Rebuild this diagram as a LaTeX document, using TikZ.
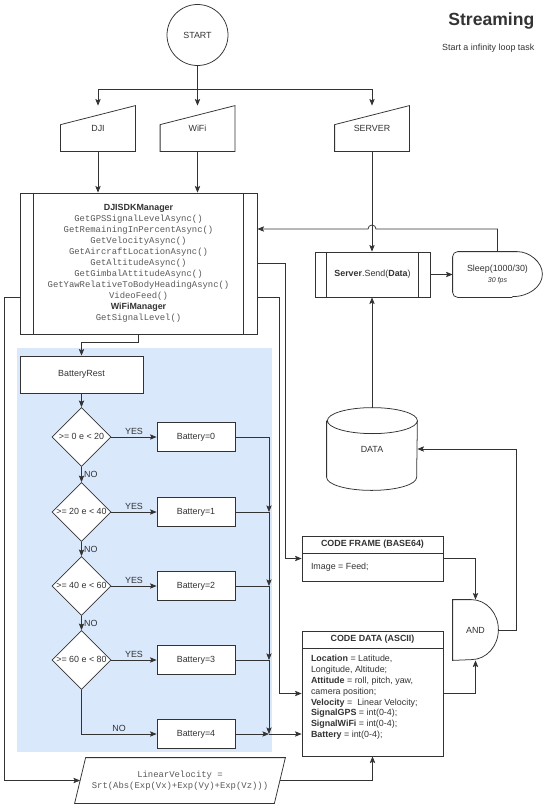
\documentclass[tikz,border=0pt]{standalone}
\usepackage{fontspec}
\setmainfont{Liberation Sans}
\setmonofont{Liberation Mono}
\usetikzlibrary{arrows.meta,shapes.geometric}

\definecolor{lineclr}{HTML}{333333}
\definecolor{bluebg}{HTML}{DAE8FC}
\definecolor{codeclr}{HTML}{5A5A5A}

\newcommand{\mono}[1]{{\ttfamily\color{codeclr}#1}}

\begin{document}
\begin{tikzpicture}[
        x=0.03cm, y=-0.03cm,
        color=lineclr,
        line width=0.65pt,
        >={Stealth[length=2mm,width=1.6mm,inset=0.4mm]},
        every node/.style={
            font=\fontsize{7.6}{9.3}\selectfont,
            inner sep=2pt
        },
        box/.style={draw, fill=white, rectangle},
        startnode/.style={draw, circle, minimum size=1.83cm},
        manual/.style={minimum width=2.22cm, minimum height=1.35cm},
        cond/.style={
            draw, fill=white, diamond, aspect=1,
            minimum width=1.77cm, minimum height=1.77cm,
            inner sep=0pt, text height=1.1ex, text depth=0.25ex
        },
        battery/.style={box, minimum width=2.34cm, minimum height=0.87cm},
        boxtitle/.style={box, minimum width=4.23cm, minimum height=0.51cm,
            anchor=north, font=\fontsize{7.6}{9.3}\selectfont\bfseries}
    ]

    \useasboundingbox (0,0) rectangle (550,808);
    \fill[white] (0,0) rectangle (550,808);

    % Fondo
    \fill[bluebg] (17,348) rectangle (272,752);

    % Título
    \node[anchor=east, font=\fontsize{15}{18}\selectfont\bfseries] (title) at (537,21) {Streaming};
    \node[anchor=east] (subtitle) at (537,48) {Start a infinity loop task};

    % Nodos
    \node[startnode] (start) at (197.5,35) {START};
    \node[manual] (dji) at (98,128.5) {DJI};
    \node[manual] (wifi) at (197.5,128.5) {WiFi};
    \node[manual] (server) at (372,128.5) {SERVER};
    \coordinate (split) at (197.5,89);
    \coordinate (loop) at (0,229);

    \node[box, minimum width=7.11cm, minimum height=4.23cm, align=center, font=\fontsize{7.6}{9.4}\selectfont] (manager) at (138.5,263.5) {\textbf{DJISDKManager}\\
        \mono{GetGPSSignalLevelAsync()}\\
        \mono{GetRemainingInPercentAsync()}\\
        \mono{GetVelocityAsync()}\\
        \mono{GetAircraftLocationAsync()}\\
        \mono{GetAltitudeAsync()}\\
        \mono{GetGimbalAttitudeAsync()}\\
        \mono{GetYawRelativeToBodyHeadingAsync()}\\
        \mono{VideoFeed()}\\
        \textbf{WiFiManager}\\
        \mono{GetSignalLevel()}};

    \node[box, minimum width=3.45cm, minimum height=1.35cm] (send) at (372.5,274.5) {\textbf{Server}.Send(\textbf{Data})};
    \node[minimum width=2.67cm, minimum height=1.35cm, align=center] (sleep) at (497.5,274.5) {Sleep(1000/30)\\{\fontsize{6}{7}\selectfont\itshape 30 fps}};
    \node[minimum width=2.7cm, minimum height=2.46cm] (data) at (372,449) {DATA};

    \node[box, minimum width=4.23cm, minimum height=1.35cm] (frame) at (372.5,558.5) {};
    \node[boxtitle] (frametitle) at (frame.north) {CODE FRAME (BASE64)};
    \node[anchor=west, inner xsep=0.27cm] (frametext) at (frame.west |- 0,567) {Image = Feed;};

    \node[box, minimum width=4.23cm, minimum height=3.75cm] (codedata) at (372.5,693.5) {};
    \node[boxtitle] (codetitle) at (codedata.north) {CODE DATA (ASCII)};
    \node[anchor=north west, inner xsep=0.27cm, inner ysep=0.2cm, align=left, font=\fontsize{7.6}{9.2}\selectfont] (codetext) at (codetitle.south west) {\textbf{Location} = Latitude,\\
        Longitude, Altitude;\\
        \textbf{Attitude} = roll, pitch, yaw,\\
        camera position;\\
        \textbf{Velocity} = \ Linear Velocity;\\
        \textbf{SignalGPS} = int(0-4);\\
        \textbf{SignalWiFi} = int(0-4);\\
        \textbf{Battery} = int(0-4);};

    \node[minimum width=1.35cm, minimum height=1.8cm] (and) at (475.5,630) {AND};

    \node[box, minimum width=3.69cm, minimum height=1.11cm] (batrest) at (81.5,374.5) {BatteryRest};
    \node[cond] (d0) at (81.5,437) {>= 0 e < 20};
    \node[cond] (d1) at (81.5,512) {>= 20 e < 40};
    \node[cond] (d2) at (81.5,586) {>= 40 e < 60};
    \node[cond] (d3) at (81.5,660) {>= 60 e < 80};
    \node[battery] (b0) at (196,437) {Battery=0};
    \node[battery] (b1) at (196,512) {Battery=1};
    \node[battery] (b2) at (196,586) {Battery=2};
    \node[battery] (b3) at (196,660) {Battery=3};
    \node[battery] (b4) at (196,734) {Battery=4};
    \coordinate (m1) at (269,512);
    \coordinate (m2) at (269,586);
    \coordinate (m3) at (269,660);
    \coordinate (m4) at (269,734);

    \node[minimum width=6.3cm, minimum height=1.35cm, align=center] (linvel) at (180,780.5) {\mono{LinearVelocity =}\\\mono{Srt(Abs(Exp(Vx)+Exp(Vy)+Exp(Vz)))}};

    % Formas
    \draw (dji.south west) -- (dji.south east) -- (dji.north east) -- ([yshift=-0.57cm]dji.north west) -- cycle;
    \draw (wifi.south west) -- (wifi.south east) -- (wifi.north east) -- ([yshift=-0.57cm]wifi.north west) -- cycle;
    \draw (server.south west) -- (server.south east) -- (server.north east) -- ([yshift=-0.57cm]server.north west) -- cycle;
    \draw ([xshift=0.42cm]manager.north west) -- ([xshift=0.42cm]manager.south west);
    \draw ([xshift=-0.42cm]manager.north east) -- ([xshift=-0.42cm]manager.south east);
    \draw ([xshift=0.35cm]send.north west) -- ([xshift=0.35cm]send.south west);
    \draw ([xshift=-0.35cm]send.north east) -- ([xshift=-0.35cm]send.south east);
    \draw[rounded corners=0.15cm] ([xshift=-0.9cm]sleep.south east) -- (sleep.south west) -- (sleep.north west) -- ([xshift=-0.9cm]sleep.north east)
        arc[start angle=90, end angle=-90, x radius=0.9cm, y radius=0.675cm];
    \draw ([yshift=-0.39cm]data.north west) -- ([yshift=0.39cm]data.south west)
        arc[start angle=180, end angle=360, x radius=1.35cm, y radius=0.39cm]
        -- ([yshift=-0.39cm]data.north east)
        arc[start angle=0, end angle=180, x radius=1.35cm, y radius=0.39cm]
        arc[start angle=180, end angle=360, x radius=1.35cm, y radius=0.39cm];
    \draw (and.south west) -- (and.north west) -- ([xshift=-0.81cm]and.north east)
        arc[start angle=90, end angle=-90, x radius=0.81cm, y radius=0.9cm] -- cycle;
    \draw ([xshift=0.33cm]linvel.north west) -- (linvel.north east) -- ([xshift=-0.33cm]linvel.south east) -- (linvel.south west) -- cycle;

    % Conexiones
    \draw (start) -- (split);
    \draw[->] (split) -- (wifi);
    \draw[->] (split) -| (dji);
    \draw[->] (split) -| (server);
    \draw[->] (dji.south) -- (dji.south |- manager.north);
    \draw[->] (wifi.south) -- (wifi.south |- manager.north);
    \draw[->] (server) -- (server |- send.north);
    \draw[->] (send) -- (sleep);
    \draw[->] (sleep.north) |- ([xshift=0.12cm]server |- loop)
        arc[start angle=0, end angle=180, radius=0.12cm] -- (manager.east |- loop);
    \draw[->] (data.north) -- (data.north |- send.south);
    \draw[->] (and.east) -- ++(0.54cm,0cm) |- (data.east);
    \draw[->] (frame.east) -| (and.north);
    \draw[->] (codedata.east) -| (and.south);
    \draw[->] (manager.east) -- ++(0.84cm,0cm) |- (frame.west);
    \draw[->] ([yshift=-1.02cm]manager.east) -- ++(0.66cm,0cm) |- (codedata.west);
    \draw[->] ([yshift=-1.02cm]manager.west) -- ++(-0.45cm,0cm) |- ([xshift=0.165cm]linvel.west);
    \draw[->] ([xshift=-0.165cm]linvel.east) -| (codedata.south);
    \draw[->] (manager.south) -- ++(0cm,-0.24cm) -| (batrest.north);

    \draw[->] (batrest) -- (d0);
    \draw[->] (d0) -- node[above] {YES} (b0);
    \draw[->] (d1) -- node[above] {YES} (b1);
    \draw[->] (d2) -- node[above] {YES} (b2);
    \draw[->] (d3) -- node[above] {YES} (b3);
    \draw[->] (d0) -- node[right] {NO} (d1);
    \draw[->] (d1) -- node[right] {NO} (d2);
    \draw[->] (d2) -- node[right] {NO} (d3);
    \draw[->] (d3) |- node[above, pos=0.75] {NO} (b4);

    \draw[->] (b0) -| (m1);
    \draw[->] (b1) -| (m2);
    \draw[->] (b2) -| (m3);
    \draw[->] (b3) -| (m4);
    \draw[->] (b4) -- (m4);
    \draw[->] (m4) -- (codedata.west |- m4);

\end{tikzpicture}
\end{document}
